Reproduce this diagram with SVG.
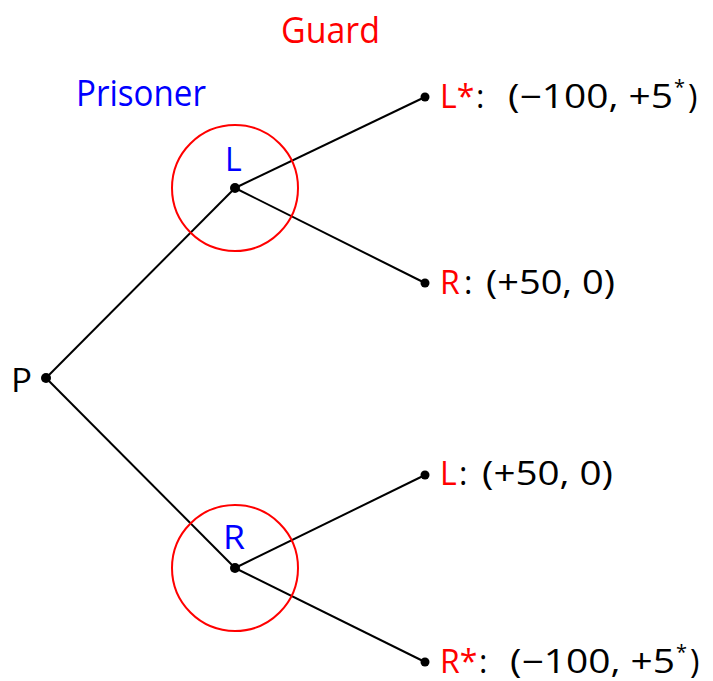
<svg xmlns="http://www.w3.org/2000/svg" width="713" height="681" viewBox="0 0 713 681">
<style>
text{font-family:"Open Sans","Liberation Sans",sans-serif;font-size:32px;}
.blk{fill:#000}.red{fill:#ff0000}.blue{fill:#0000ff}
.edge{stroke:#000;stroke-width:2;fill:none}
.ring{stroke:#ff0000;stroke-width:2;fill:none}
.sup{font-size:20px}
.ttl{font-size:36px}
</style>
<rect width="713" height="681" fill="#fff"/>
<g id="connectors">
<line class="edge" x1="46" y1="378" x2="235" y2="188"/>
<line class="edge" x1="46" y1="378" x2="235" y2="568"/>
<line class="edge" x1="235" y1="188" x2="425" y2="97"/>
<line class="edge" x1="235" y1="188" x2="425" y2="283"/>
<line class="edge" x1="235" y1="568" x2="425" y2="475"/>
<line class="edge" x1="235" y1="568" x2="425" y2="662"/>
</g>
<g id="title-guard"><text class="red ttl" x="281" y="43" textLength="99" lengthAdjust="spacingAndGlyphs">Guard</text></g>
<g id="title-prisoner"><text class="blue ttl" x="76" y="106" textLength="130" lengthAdjust="spacingAndGlyphs">Prisoner</text></g>
<g id="node-P"><circle cx="46" cy="378" r="5"/><text class="blk" x="11" y="392" textLength="21" lengthAdjust="spacingAndGlyphs">P</text></g>
<g id="node-L"><circle class="ring" cx="235" cy="188" r="63"/><circle cx="235" cy="188" r="5"/><text class="blue" x="225" y="171">L</text></g>
<g id="node-R"><circle class="ring" cx="235" cy="568" r="63"/><circle cx="235" cy="568" r="5"/><text class="blue" x="223" y="549" textLength="22" lengthAdjust="spacingAndGlyphs">R</text></g>
<g id="leaf-LL"><circle cx="425" cy="97" r="4.5"/>
<text x="440" y="108"><tspan class="red">L*</tspan><tspan class="blk" x="476">:</tspan><tspan class="blk" x="508" textLength="165" lengthAdjust="spacingAndGlyphs">(−100, +5</tspan><tspan class="blk sup" x="674" y="94">*</tspan><tspan class="blk" x="688" y="108">)</tspan></text></g>
<g id="leaf-LR"><circle cx="425" cy="283" r="4.5"/>
<text x="440" y="294"><tspan class="red">R</tspan><tspan class="blk" x="464">:</tspan><tspan class="blk" x="486" textLength="129" lengthAdjust="spacingAndGlyphs">(+50, 0)</tspan></text></g>
<g id="leaf-RL"><circle cx="425" cy="475" r="4.5"/>
<text x="440" y="485"><tspan class="red">L</tspan><tspan class="blk" x="459">:</tspan><tspan class="blk" x="482" textLength="131" lengthAdjust="spacingAndGlyphs">(+50, 0)</tspan></text></g>
<g id="leaf-RR"><circle cx="425" cy="662" r="4.5"/>
<text x="440" y="673"><tspan class="red">R*</tspan><tspan class="blk" x="479">:</tspan><tspan class="blk" x="510" textLength="165" lengthAdjust="spacingAndGlyphs">(−100, +5</tspan><tspan class="blk sup" x="676" y="659">*</tspan><tspan class="blk" x="690" y="673">)</tspan></text></g>
</svg>
